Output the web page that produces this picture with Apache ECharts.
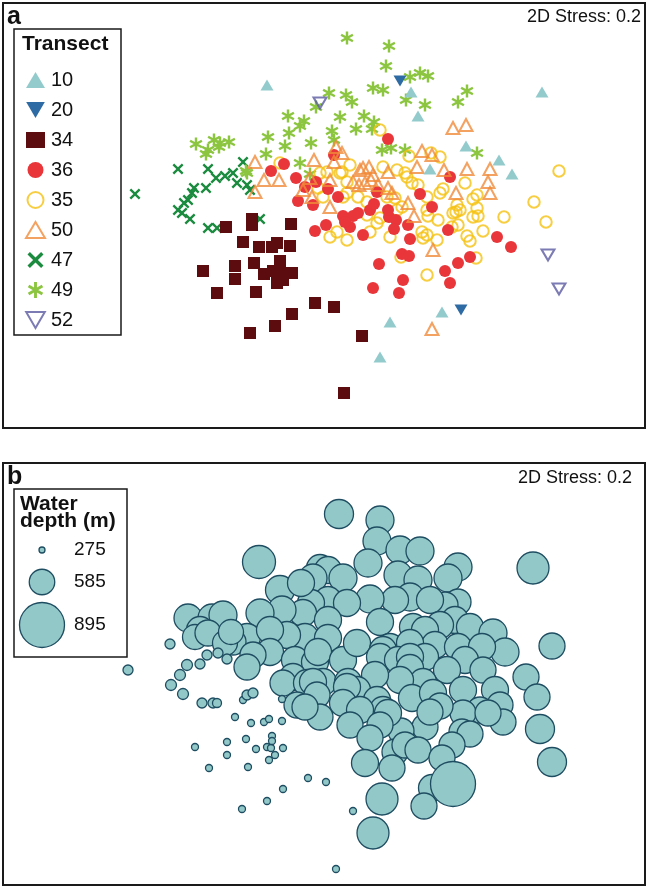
<!DOCTYPE html>
<html>
<head>
<meta charset="utf-8">
<script src="https://cdn.jsdelivr.net/npm/echarts@6/dist/echarts.min.js"></script>
<style>
  html, body { margin: 0; padding: 0; background: #fff; }
  #chart { width: 647px; height: 891px; }
</style>
</head>
<body>
<div id="chart"></div>
<script>
// panel a: ordination points per transect (plot units)
var transect10 = [[267,85],[411,92],[418,116],[542,92],[466,146],[499,160],[512,174],[430,169],[442,312],[390,322],[380,357]];
var transect20 = [[400,81],[461,310]];
var transect34 = [[226,227],[252,219],[252,225],[291,224],[243,242],[259,247],[272,247],[277,243],[290,246],[203,271],
  [235,266],[235,279],[254,263],[264,274],[273,271],[280,261],[280,270],[292,273],[277,283],[283,280],
  [217,293],[256,292],[315,303],[334,307],[292,314],[275,326],[250,333],[362,336],[344,393]];
var transect36 = [[388,139],[284,164],[271,171],[334,155],[296,178],[305,187],[316,182],[298,201],[313,205],[338,197],
  [328,189],[343,216],[353,216],[358,213],[350,227],[363,235],[370,210],[374,204],[377,192],[389,217],
  [396,220],[394,229],[408,225],[420,194],[432,207],[450,177],[410,239],[448,230],[315,231],[326,225],
  [402,254],[409,256],[379,264],[458,263],[470,257],[497,237],[511,247],[445,271],[450,283],[403,280],
  [373,288],[399,293],[345,222],[388,210]];
var transect35 = [[380,130],[280,163],[350,165],[342,172],[320,173],[327,172],[340,173],[347,182],[318,188],[323,197],
  [343,197],[358,197],[367,202],[383,167],[397,170],[407,177],[412,183],[418,185],[387,197],[395,198],
  [402,207],[397,210],[427,197],[440,193],[443,189],[427,210],[438,220],[457,205],[460,210],[465,183],
  [477,208],[473,217],[458,225],[427,235],[422,232],[423,238],[437,240],[470,241],[337,232],[330,237],
  [370,232],[380,218],[367,215],[409,156],[440,157],[405,173],[559,171],[477,195],[473,199],[456,212],
  [478,216],[504,217],[534,202],[546,222],[483,231],[467,236],[428,216],[377,223],[347,193],[390,237],
  [452,227],[347,240],[453,213],[476,258],[401,257],[427,275],[431,153]];
var transect50 = [[453,128],[466,125],[336,147],[255,162],[314,160],[334,162],[422,151],[432,155],[264,180],[279,180],
  [255,192],[310,178],[330,180],[363,168],[369,167],[373,175],[388,172],[417,167],[444,170],[467,169],
  [490,169],[488,182],[490,193],[456,193],[353,182],[359,185],[365,183],[371,180],[378,185],[388,188],
  [392,193],[408,203],[414,216],[330,207],[312,197],[303,190],[433,250],[432,329],[342,153],[360,170]];
var transect47 = [[135,194],[178,169],[208,169],[216,178],[225,176],[233,173],[237,183],[243,162],[247,185],[250,190],
  [194,188],[192,193],[206,188],[188,200],[184,203],[178,210],[182,213],[190,219],[208,228],[217,228],[260,219]];
var transect49 = [[347,38],[389,46],[386,66],[410,77],[420,73],[428,76],[373,88],[383,90],[406,100],[425,105],
  [458,102],[467,91],[329,93],[346,95],[352,102],[288,116],[304,121],[300,126],[340,117],[364,116],
  [374,122],[268,137],[289,133],[332,131],[334,140],[356,129],[372,129],[311,143],[285,146],[196,144],
  [214,140],[219,147],[229,142],[206,154],[208,150],[266,154],[382,150],[391,148],[405,150],[477,153],
  [300,163],[247,173],[310,174],[316,107],[220,143],[246,171]];
var transect52 = [[320,103],[548,255],[559,289]];

// panel b: [x, y, water depth (m)]
var depthPoints = [
  [339,514,641],[380,520,625],[377,541,625],[400,550,625],[420,551,625],[368,563,625],[398,575,625],[418,580,625],
  [410,597,625],[458,567,625],[448,578,625],[458,602,593],[445,605,593],[533,568,688],[259,562,704],[320,568,609],
  [328,570,609],[395,600,609],[430,600,609],
  [313,578,625],[343,578,625],[280,590,641],[370,599,625],[328,600,609],[311,603,609],[301,583,609],[347,603,609],
  [303,613,609],[282,610,625],[260,613,625],[188,618,625],[212,618,625],[223,615,625],[200,630,609],[195,637,577],
  [208,633,593],[455,620,609],[440,625,609],
  [328,620,609],[380,622,609],[305,637,609],[328,638,609],[287,635,609],[247,637,609],[233,642,593],[225,643,577],
  [231,632,577],[270,630,609],[270,652,609],[253,655,593],[247,667,593],[295,660,609],[315,662,609],[318,652,609],
  [343,660,609],[357,643,609],[413,627,609],[425,630,609],[470,627,609],[493,633,625],[505,652,625],[435,645,609],
  [458,647,609],[482,647,609],[390,647,609],[410,643,609],[383,650,609],[465,660,609],[380,657,609],[398,660,609],
  [425,657,609],[410,657,609],[410,668,609],[483,670,593],
  [447,670,609],[423,682,609],[400,680,609],[375,675,609],[323,682,609],[293,677,609],[283,683,593],[307,683,609],
  [348,682,609],[357,690,609],[347,687,609],
  [313,682,609],[552,646,593],[526,677,593],[537,697,593],[495,690,609],[463,690,609],[412,698,609],[433,693,609],
  [377,700,609],[500,705,593],[480,710,593],[463,713,593],
  [540,729,641],[552,762,641],[503,722,593],[488,713,593],[462,732,593],[470,734,593],[440,706,593],[425,727,593],
  [430,712,593],[383,710,609],[401,731,593],[297,705,593],[317,695,593],[320,717,593],[305,707,593],[343,703,609],
  [360,710,609],[388,713,609],[380,725,593],[350,725,593],
  [370,738,593],[395,752,593],[405,745,593],[418,750,593],[452,745,593],[442,758,593],[392,768,593],[365,763,609],
  [432,788,609],[424,806,593],[453,784,895],[382,799,688],[373,833,688],
  [128,670,339],[170,644,339],[187,665,354],[180,675,354],[171,685,354],[183,694,354],[200,664,339],[207,655,339],
  [218,653,339],[227,659,339],[202,703,339],[213,703,339],[217,703,323],[243,700,291],[247,695,339],[253,693,339],
  [282,699,291],[235,717,291],[251,723,291],[264,722,291],[269,719,291],[282,721,291],[195,747,291],[227,742,291],
  [227,755,291],[246,739,291],[256,749,291],[267,747,291],[271,748,291],[272,736,291],[272,741,291],[275,755,291],
  [269,760,291],[283,748,291],[209,768,291],[248,767,291],[283,789,291],[267,801,291],[242,809,291],[308,778,291],
  [326,782,291],[353,811,291],[336,869,291]
];
var depthKeys = [275, 585, 895];

var font = 'Liberation Sans, Arial, sans-serif';
var downTri = 'path://M0,0L10,0L5,8.6Z';
var cross = 'path://M0,1.5L1.5,0L5,3.5L8.5,0L10,1.5L6.5,5L10,8.5L8.5,10L5,6.5L1.5,10L0,8.5L3.5,5Z';
var star = 'path://M4.1,0L5.9,0L5.9,10L4.1,10Z M1.12,1.72L9.78,6.72L8.88,8.28L0.22,3.28Z M9.78,3.28L1.12,8.28L0.22,6.72L8.88,1.72Z';

function sizeOf(d) {
  return 6 + (d - 275) * 39 / 620;
}

function pts(name, data, symbol, size, fill, stroke) {
  return {
    name: name,
    type: 'scatter',
    xAxisIndex: 0,
    yAxisIndex: 0,
    data: data,
    symbol: symbol,
    symbolSize: size,
    itemStyle: stroke
      ? { color: 'rgba(255,255,255,0)', borderColor: stroke, borderWidth: 2 }
      : { color: fill, opacity: 1 },
    emphasis: { disabled: true }
  };
}

var chart = echarts.init(document.getElementById('chart'));

var option = {
  backgroundColor: '#fff',
  animation: false,
  textStyle: { fontFamily: font },
  grid: [
    { left: 3, top: 3, width: 642, height: 425, show: true, borderColor: '#1a1a1a', borderWidth: 2, backgroundColor: '#fff' },
    { left: 3, top: 463, width: 642, height: 422, show: true, borderColor: '#1a1a1a', borderWidth: 2, backgroundColor: '#fff' }
  ],
  xAxis: [
    { type: 'value', gridIndex: 0, min: 3, max: 645, show: false },
    { type: 'value', gridIndex: 1, min: 3, max: 645, show: false }
  ],
  yAxis: [
    { type: 'value', gridIndex: 0, min: 3, max: 428, inverse: true, show: false },
    { type: 'value', gridIndex: 1, min: 463, max: 885, inverse: true, show: false }
  ],
  legend: {
    data: ['10', '20', '34', '36', '35', '50', '47', '49', '52'],
    orient: 'vertical',
    left: 20,
    top: 65,
    itemWidth: 19,
    itemHeight: 16,
    itemGap: 10,
    selectedMode: false,
    textStyle: { fontSize: 20, lineHeight: 20, color: '#111', padding: [0, 0, 0, 1], fontFamily: font }
  },
  graphic: [
    { type: 'rect', shape: { x: 14, y: 29, width: 107, height: 306 }, style: { fill: 'none', stroke: '#1a1a1a', lineWidth: 1.5 } },
    { type: 'text', x: 22, y: 44, style: { text: 'Transect', fontSize: 21, fontWeight: 'bold', fontFamily: font, fill: '#111', verticalAlign: 'middle', textVerticalAlign: 'middle' } },
    { type: 'text', x: 7, y: 17, style: { text: 'a', fontSize: 25, fontWeight: 'bold', fontFamily: font, fill: '#111', verticalAlign: 'middle', textVerticalAlign: 'middle' } },
    { type: 'text', x: 641, y: 17, style: { text: '2D Stress: 0.2', fontSize: 18, fontFamily: font, fill: '#111', align: 'right', textAlign: 'right', verticalAlign: 'middle', textVerticalAlign: 'middle' } },
    { type: 'text', x: 7, y: 477, style: { text: 'b', fontSize: 25, fontWeight: 'bold', fontFamily: font, fill: '#111', verticalAlign: 'middle', textVerticalAlign: 'middle' } },
    { type: 'text', x: 632, y: 478, style: { text: '2D Stress: 0.2', fontSize: 18, fontFamily: font, fill: '#111', align: 'right', textAlign: 'right', verticalAlign: 'middle', textVerticalAlign: 'middle' } },
    { type: 'rect', shape: { x: 14, y: 489, width: 113, height: 168 }, style: { fill: '#fff', stroke: '#1a1a1a', lineWidth: 1.5 } },
    { type: 'text', x: 20, y: 513, style: { text: 'Water\ndepth (m)', fontSize: 21, lineHeight: 17, fontWeight: 'bold', fontFamily: font, fill: '#111', verticalAlign: 'middle', textVerticalAlign: 'middle' } }
  ].concat(depthKeys.map(function (d, i) {
    var cy = [550, 582, 625][i];
    return [
      { type: 'circle', shape: { cx: 42, cy: cy, r: sizeOf(d) / 2 }, style: { fill: '#93c8c9', stroke: '#1e4d61', lineWidth: 1.3 } },
      { type: 'text', x: 74, y: cy, style: { text: String(d), fontSize: 19, fontFamily: font, fill: '#111', verticalAlign: 'middle', textVerticalAlign: 'middle' } }
    ];
  }).reduce(function (a, b) { return a.concat(b); }, [])),
  series: [
    pts('47', transect47, cross, 11, '#1b8b3f'),
    pts('49', transect49, star, 13, '#8cc53f'),
    pts('34', transect34, 'rect', 12, '#5c0b0f'),
    pts('35', transect35, 'circle', 11.5, null, '#f5c211'),
    pts('36', transect36, 'circle', 12, '#e8363a'),
    pts('50', transect50, 'triangle', [13, 12], null, '#f08b3a'),
    pts('10', transect10, 'triangle', [13, 11], '#93cbcd'),
    pts('20', transect20, downTri, [13, 11], '#2e6aa3'),
    pts('52', transect52, downTri, [13, 11], null, '#5b5aa0'),
    {
      name: 'Water depth',
      type: 'scatter',
      xAxisIndex: 1,
      yAxisIndex: 1,
      data: depthPoints,
      symbolSize: function (v) { return sizeOf(v[2]); },
      itemStyle: { color: '#93c8c9', borderColor: '#1e4d61', borderWidth: 1.3, opacity: 1 },
      emphasis: { disabled: true }
    }
  ]
};

chart.setOption(option);
</script>
</body>
</html>
